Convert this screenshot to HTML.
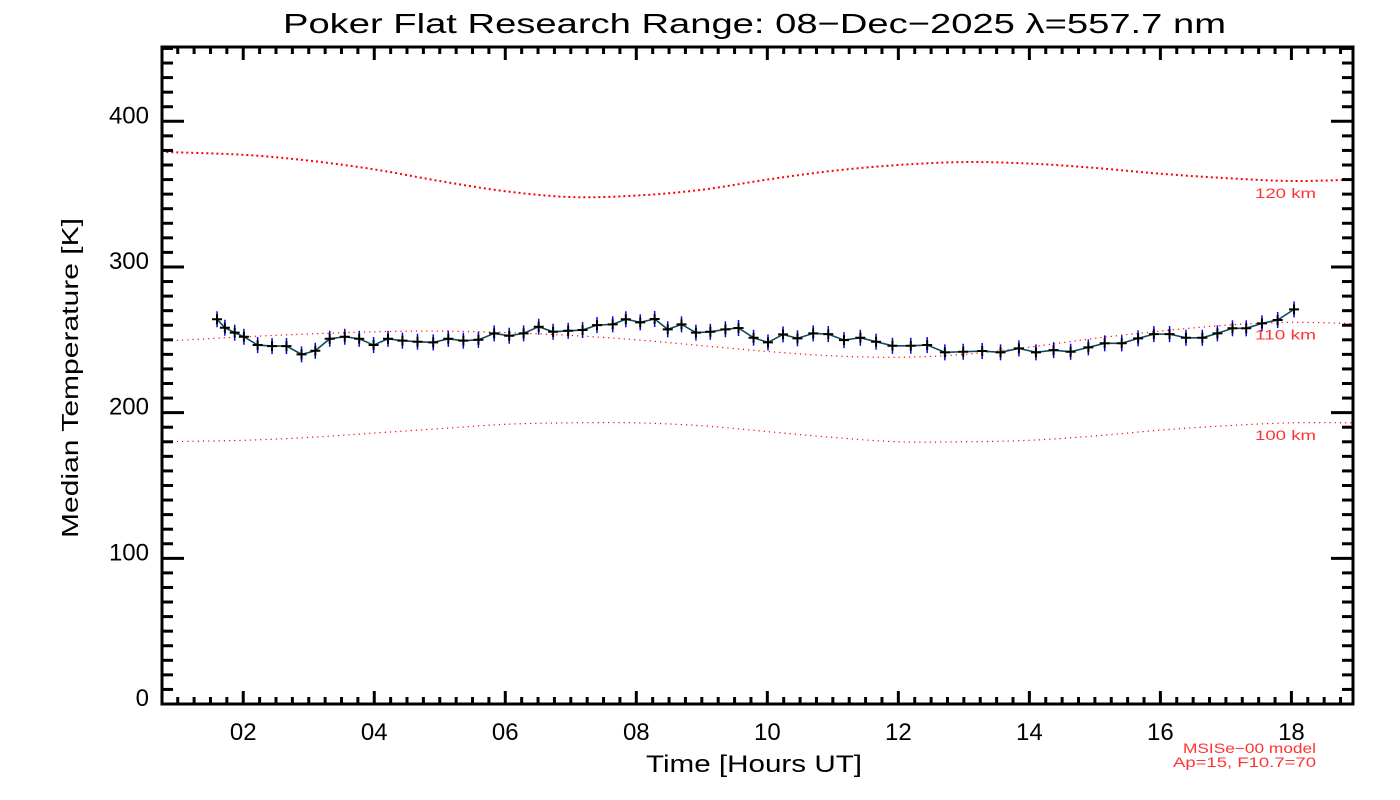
<!DOCTYPE html>
<html><head><meta charset="utf-8"><style>
html,body{margin:0;padding:0;background:#fff;}
svg{display:block;font-family:"Liberation Sans",sans-serif;}
</style></head><body>
<svg id="chart" width="1400" height="800" xmlns="http://www.w3.org/2000/svg">
<defs><clipPath id="plotclip"><rect x="162" y="47" width="1191" height="657"/></clipPath></defs>
<rect width="1400" height="800" fill="#fff"/>
<text x="283" y="33" font-size="28" textLength="943" lengthAdjust="spacingAndGlyphs" fill="#000">Poker Flat Research Range: 08−Dec−2025 λ=557.7 nm</text>
<text x="646" y="772" font-size="24" textLength="216" lengthAdjust="spacingAndGlyphs" fill="#000">Time [Hours UT]</text>
<text transform="translate(78,538) rotate(-90)" font-size="23" textLength="320" lengthAdjust="spacingAndGlyphs" fill="#000">Median Temperature [K]</text>
<text x="1183" y="753" font-size="14" textLength="133" lengthAdjust="spacingAndGlyphs" fill="#f33">MSISe−00 model</text>
<text x="1173" y="767" font-size="14" textLength="143" lengthAdjust="spacingAndGlyphs" fill="#f33">Ap=15, F10.7=70</text>
<g id="models" clip-path="url(#plotclip)"></g>
<g id="series"></g>
<g id="axes"></g>
</svg>
<script>
const hours = [1.60,1.72,1.87,2.01,2.22,2.44,2.66,2.89,3.10,3.32,3.55,3.77,3.99,4.21,4.43,4.66,4.90,5.13,5.36,5.59,5.83,6.06,6.28,6.51,6.73,6.96,7.18,7.40,7.64,7.84,8.06,8.28,8.48,8.69,8.91,9.13,9.36,9.56,9.79,10.01,10.24,10.46,10.70,10.93,11.17,11.42,11.66,11.91,12.19,12.44,12.71,12.99,13.28,13.56,13.84,14.10,14.37,14.63,14.90,15.15,15.41,15.66,15.90,16.14,16.39,16.64,16.87,17.10,17.31,17.55,17.79,18.04];
const temps = [264.1,258.3,254.9,252.1,246.4,245.7,245.7,240.0,242.5,250.7,252.1,250.7,246.4,250.7,249.4,248.7,248.2,250.7,249.4,250.0,254.4,252.8,254.4,259.0,255.5,256.2,256.7,260.1,260.6,264.1,262.0,264.3,257.2,260.6,254.9,255.5,257.2,258.1,251.4,248.2,253.7,251.0,254.4,253.9,249.8,251.4,248.7,245.9,245.9,246.4,241.4,241.8,242.3,241.4,244.1,241.4,242.9,241.8,244.8,247.6,247.6,251.0,253.9,253.9,251.4,251.4,254.4,257.9,257.9,261.3,263.6,270.9];
const errK = 5.5;
const modelHours = [0.75,2,3,4,5,6,7,8,9,10,11,12,13,14,15,16,17,18,19];
const msis120 = [379,377,373,367,359,352,348,349,353,360,366,370,372,371,368,364,361,359,360];
const msis110 = [249,252,254,255.5,256,255,253,250,246,242,239,238,240,245,251,256,260,262,261];
const msis100 = [180,181,183,186,189,192,193,193,191,187,183,180,180,181,184,188,191,193,193];
const xTicks = [2,4,6,8,10,12,14,16,18];
const xTickLabels = ["02","04","06","08","10","12","14","16","18"];
const yTicks = [0,100,200,300,400];

const NS="http://www.w3.org/2000/svg";
const L=162,R=1353,T=47,B=704, X0=0.76,X1=18.94, Y0=0,Y1=451;
const xs=h=>L+(h-X0)/(X1-X0)*(R-L);
const ys=v=>B-(v-Y0)/(Y1-Y0)*(B-T);
function mk(tag,attrs,parent){const e=document.createElementNS(NS,tag);for(const k in attrs)e.setAttribute(k,attrs[k]);parent.appendChild(e);return e;}

function smoothPath(hs,vs){
  const p=hs.map((h,i)=>[xs(h),ys(vs[i])]);
  let d=`M${p[0][0]},${p[0][1]}`;
  for(let i=0;i<p.length-1;i++){
    const p0=p[Math.max(0,i-1)],p1=p[i],p2=p[i+1],p3=p[Math.min(p.length-1,i+2)];
    d+=` C${p1[0]+(p2[0]-p0[0])/6},${p1[1]+(p2[1]-p0[1])/6} ${p2[0]-(p3[0]-p1[0])/6},${p2[1]-(p3[1]-p1[1])/6} ${p2[0]},${p2[1]}`;
  }
  return d;
}
const mg=document.getElementById('models');
const c120=mk('path',{d:smoothPath(modelHours,msis120),fill:'none',stroke:'#f00','stroke-width':2,'stroke-dasharray':'2 3'},mg);


const c110=mk('path',{d:smoothPath(modelHours,msis110),fill:'none',stroke:'#f00','stroke-width':1.2,'stroke-dasharray':'1.2 4'},mg);


const c100=mk('path',{d:smoothPath(modelHours,msis100),fill:'none',stroke:'#f00','stroke-width':1.2,'stroke-dasharray':'1.2 4'},mg);


const lg=document.getElementById('series');
[[msis120,'120 km','label-120km'],[msis110,'110 km','label-110km'],[msis100,'100 km','label-100km']].forEach(([arr,t,n])=>{
  const e=mk('text',{x:1255,y:ys(arr[arr.length-2])+17,'font-size':14,textLength:61,lengthAdjust:'spacingAndGlyphs',fill:'#f33'},lg);
  e.textContent=t;
  
  
});

const sg=document.getElementById('series');
const line=mk('polyline',{points:hours.map((h,i)=>xs(h)+','+ys(temps[i])).join(' '),fill:'none',stroke:'#0d4a66','stroke-width':1.6},sg);


hours.forEach((h,i)=>{
  const x=xs(h),y=ys(temps[i]);
  const eb=mk('line',{x1:x,x2:x,y1:ys(temps[i]+errK),y2:ys(temps[i]-errK),stroke:'#00f','stroke-width':1.5},sg);
  
  
  const m=mk('path',{d:`M${x-5},${y}H${x+5}M${x},${y-5}V${y+5}`,stroke:'#000','stroke-width':2},sg);
  
  
});

const ag=document.getElementById('axes');
const box=mk('rect',{x:L,y:T,width:R-L,height:B-T,fill:'none',stroke:'#000','stroke-width':3},ag);


for(let h=1;h<=18.9;h+=0.25){
  const x=xs(h),maj=Math.abs(h%2)<1e-6,len=maj?13:7;
  mk('line',{x1:x,x2:x,y1:B,y2:B-len,stroke:'#000','stroke-width':3},ag);
  mk('line',{x1:x,x2:x,y1:T,y2:T+len,stroke:'#000','stroke-width':3},ag);
}
for(let v=0;v<=450;v+=10){
  const y=ys(v),maj=v%100===0,len=maj?22:11;
  mk('line',{x1:L,x2:L+len,y1:y,y2:y,stroke:'#000','stroke-width':3},ag);
  mk('line',{x1:R,x2:R-len,y1:y,y2:y,stroke:'#000','stroke-width':3},ag);
}
xTicks.forEach((h,i)=>{
  const e=mk('text',{x:xs(h),y:740,'font-size':24,'text-anchor':'middle',fill:'#000'},ag);
  e.textContent=xTickLabels[i];
  
  
});
yTicks.forEach(v=>{
  const e=mk('text',{x:149,y:ys(v)+2,'font-size':24,'text-anchor':'end',fill:'#000'},ag);
  e.textContent=String(v);
  
  
});
</script>
</body></html>
